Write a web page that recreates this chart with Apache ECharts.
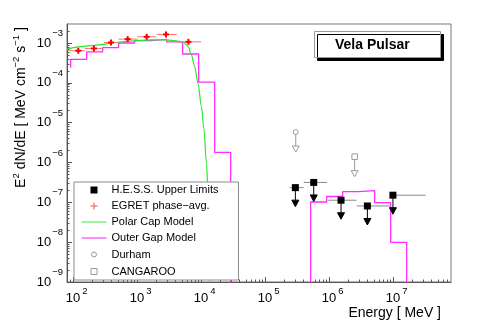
<!DOCTYPE html>
<html><head><meta charset="utf-8">
<script src="https://cdn.jsdelivr.net/npm/echarts@6/dist/echarts.min.js"></script>
<style>html,body{margin:0;padding:0;background:#fff}#c{width:482px;height:328px}</style>
</head><body><div id="c"></div>
<script>
// ---- axis ranges & tick labels (powers of ten) ----
const xRange = [80, 8e7];          // MeV
const yRange = [1e-9, 3e-3];       // MeV cm^-2 s^-1
const xTickExps = [2, 3, 4, 5, 6, 7];
const yTickExps = [-9, -8, -7, -6, -5, -4, -3];

// ---- EGRET phase-averaged points ----
const egretE   = [120, 211, 390, 710, 1405, 2820, 6310];
const egretELo = [82, 152, 302, 508, 1000, 2020, 4140];
const egretEHi = [154, 286, 510, 1018, 1970, 4140, 9930];
const egretF   = [6.4e-4, 7.3e-4, 1.03e-3, 1.25e-3, 1.43e-3, 1.64e-3, 1.07e-3];
const egretFLo = [5.6e-4, 6.4e-4, 9.1e-4, 1.10e-3, 1.26e-3, 1.38e-3, 9.4e-4];
const egretFHi = [7.3e-4, 8.3e-4, 1.17e-3, 1.42e-3, 1.62e-3, 1.92e-3, 1.22e-3];

// ---- H.E.S.S. upper limits ----
const hessE   = [2.96e5, 5.73e5, 1.53e6, 3.95e6, 9.9e6];
const hessELo = [2.42e5, 4.0e5, 9.5e5, 2.69e6, 9.1e6];
const hessEHi = [4.0e5, 9.25e5, 2.66e6, 9.1e6, 3.22e7];
const hessUL  = [2.34e-7, 3.16e-7, 1.13e-7, 8.1e-8, 1.51e-7];

// ---- Durham & CANGAROO upper limits ----
const durhamE = [3.0e5];    const durhamUL = [5.8e-6];
const cangE   = [2.5e6];    const cangUL   = [1.4e-6];

// ---- Polar cap model curve ----
const pcE = [80, 142, 259, 473, 859, 1567, 2858, 4099, 5200, 6223, 7031, 7907, 8913, 10070, 11070, 12050, 12960, 13240, 13580, 14000];
const pcF = [7.0e-4, 8.2e-4, 9.0e-4, 1.03e-3, 1.135e-3, 1.2e-3, 1.2e-3, 1.135e-3, 1.06e-3, 8.2e-4, 5.06e-4, 2.57e-4, 9.8e-5, 2.54e-5, 6.6e-6, 9.6e-7, 1.39e-7, 3.03e-8, 1.0e-9, 1e-11];

// ---- Outer gap model histogram (bin low edges, values; 1e-12 = below plot) ----
const ogE = [91.2, 91.2, 162.2, 288.4, 512.9, 912.0, 1622, 2884, 5129, 9120, 16218, 28840, 5.129e5, 9.12e5, 1.622e6, 2.884e6, 5.129e6, 9.12e6, 1.622e7];
const ogF = [2.4e-4, 3.9e-4, 6.0e-4, 7.7e-4, 1.0e-3, 1.15e-3, 1.24e-3, 1.07e-3, 5.3e-4, 1.04e-4, 1.8e-6, 1e-12, 1.02e-7, 1.4e-7, 1.86e-7, 1.97e-7, 9.8e-8, 9.9e-9, 1e-12];

const lg = Math.log10;
const FONT = 'Liberation Sans, Arial, Helvetica, sans-serif';

function minorTicks(lo, hi) {
  const out = [];
  for (let d = Math.floor(lo); d <= Math.ceil(hi); d++)
    for (let k = 2; k <= 9; k++) { const v = d + lg(k); if (v > lo && v < hi) out.push(v); }
  return out;
}
const xMin = lg(xRange[0]), xMax = lg(xRange[1]);
const yMin = lg(yRange[0]), yMax = lg(yRange[1]);

function expStr(v) { const n = Math.round(v); return n < 0 ? '\u2212' + (-n) : '' + n; }

function ulRenderer(cfg) {
  return function (params, api) {
    const p = api.coord([api.value(0), api.value(1)]);
    const ch = [];
    if (cfg.bar) {
      const l = api.coord([api.value(2), api.value(1)]);
      const r = api.coord([api.value(3), api.value(1)]);
      ch.push({type: 'line', shape: {x1: l[0], y1: p[1], x2: r[0], y2: p[1]}, style: {stroke: cfg.barColor, lineWidth: 1}});
    }
    const tip = p[1] + cfg.len;
    ch.push({type: 'line', shape: {x1: p[0], y1: p[1], x2: p[0], y2: tip - cfg.headH}, style: {stroke: cfg.color, lineWidth: 1}});
    ch.push({type: 'polygon', shape: {points: [[p[0] - cfg.headW / 2, tip - cfg.headH], [p[0] + cfg.headW / 2, tip - cfg.headH], [p[0], tip]]},
             style: {fill: cfg.headFill, stroke: cfg.color, lineWidth: 1}});
    const s = cfg.size;
    if (cfg.marker === 'circle') {
      ch.push({type: 'circle', shape: {cx: p[0], cy: p[1], r: s / 2}, style: {fill: cfg.markFill, stroke: cfg.color, lineWidth: 1}});
    } else {
      ch.push({type: 'rect', shape: {x: p[0] - s / 2, y: p[1] - s / 2, width: s, height: s}, style: {fill: cfg.markFill, stroke: cfg.color, lineWidth: cfg.markFill === '#000' ? 0 : 1}});
    }
    return {type: 'group', children: ch};
  };
}

const chart = echarts.init(document.getElementById('c'), null, {renderer: 'canvas'});

const xLabelRich = {
  a: {fontSize: 13, fontFamily: FONT, color: '#000', padding: [0, 0, 0, 7]},
  b: {fontSize: 9.5, fontFamily: FONT, color: '#000', padding: [0, 0, 14, 2]}
};
const yLabelRich = {
  a: {fontSize: 13, fontFamily: FONT, color: '#000'},
  b: {fontSize: 9.5, fontFamily: FONT, color: '#000', padding: [0, 0, 19, 1]}
};
const LINE_ICON = 'path://M0,0M25,12M0,5.4H25V6.6H0Z';

const option = {
  animation: false,
  backgroundColor: '#fff',
  title: {
    text: 'Vela Pulsar', left: 314, top: 31,
    padding: [7, 31, 6, 21],
    backgroundColor: '#fff', borderColor: '#999', borderWidth: 1,
    shadowColor: '#000', shadowOffsetX: 3, shadowOffsetY: 3, shadowBlur: 0,
    textStyle: {fontSize: 14, fontWeight: 'bold', fontFamily: FONT, color: '#000', lineHeight: 14}
  },
  legend: {
    orient: 'vertical', left: 74, top: 182,
    padding: [2, 20, 2, 7], itemGap: 4, itemWidth: 25, itemHeight: 12,
    backgroundColor: '#fff', borderColor: '#8c8c8c', borderWidth: 1,
    selectedMode: false, z: 10,
    textStyle: {fontFamily: FONT, fontSize: 11, color: '#000'},
    data: [
      {name: 'H.E.S.S. Upper Limits', icon: 'path://M0,0M25,12M9,2.5H16V9.5H9Z', itemStyle: {color: '#000', borderWidth: 0}},
      {name: 'EGRET phase\u2212avg.', icon: 'path://M0,0M25,12M12,2.5H13V9.5H12Z M9,5.5H16V6.5H9Z', itemStyle: {color: '#ff4a4a', borderWidth: 0}},
      {name: 'Polar Cap Model', icon: LINE_ICON, itemStyle: {color: '#5cf05c', borderWidth: 0}},
      {name: 'Outer Gap Model', icon: LINE_ICON, itemStyle: {color: '#ff3cff', borderWidth: 0}},
      {name: 'Durham', icon: 'path://M0,0M25,12M15,6A2.5,2.5,0,1,1,10,6A2.5,2.5,0,1,1,15,6Z', itemStyle: {color: '#fff', borderColor: '#999', borderWidth: 1}},
      {name: 'CANGAROO', icon: 'path://M0,0M25,12M9.5,3H15.5V9H9.5Z', itemStyle: {color: '#fff', borderColor: '#999', borderWidth: 1}}
    ]
  },
  grid: {left: 67, right: 31, top: 24, bottom: 46, show: true, borderColor: '#777', borderWidth: 1, backgroundColor: 'transparent', containLabel: false, outerBoundsMode: 'none'},
  xAxis: [
    {
      type: 'value', min: xMin, max: xMax, position: 'bottom',
      axisLine: {show: true, lineStyle: {color: '#555', width: 1}},
      axisTick: {show: true, inside: true, length: 5, customValues: xTickExps, lineStyle: {color: '#555'}},
      axisLabel: {show: true, customValues: xTickExps, margin: 4, hideOverlap: false, showMinLabel: true, showMaxLabel: true,
                  formatter: v => '{a|10}{b|' + expStr(v) + '}', rich: xLabelRich},
      splitLine: {show: false},
      name: 'Energy [ MeV ]', nameLocation: 'end', nameGap: -10, nameMoveOverlap: false,
      nameTextStyle: {fontFamily: FONT, fontSize: 14, color: '#000', align: 'right', verticalAlign: 'top', padding: [24, 0, 0, 0]}
    },
    {
      type: 'value', min: xMin, max: xMax, position: 'bottom',
      axisLine: {show: false},
      axisTick: {show: true, inside: true, length: 2.5, customValues: minorTicks(xMin, xMax), lineStyle: {color: '#555'}},
      axisLabel: {show: false}, splitLine: {show: false}
    }
  ],
  yAxis: [
    {
      type: 'value', min: yMin, max: yMax, position: 'left',
      axisLine: {show: true, lineStyle: {color: '#555', width: 1}},
      axisTick: {show: true, inside: true, length: 5, customValues: yTickExps, lineStyle: {color: '#555'}},
      axisLabel: {show: true, customValues: yTickExps, margin: 4, hideOverlap: false, showMinLabel: true, showMaxLabel: true,
                  formatter: v => '{a|10}{b|' + expStr(v) + '}', rich: yLabelRich},
      splitLine: {show: false},
      name: 'E{sup|2} dN/dE [ MeV cm{sup|\u22122} s{sup|\u22121} ]',
      nameLocation: 'middle', nameRotate: 90, nameGap: 35, nameMoveOverlap: false,
      nameTextStyle: {fontFamily: FONT, fontSize: 14, color: '#000', padding: [0, 0, 0, 91],
                      rich: {sup: {fontFamily: FONT, fontSize: 9.5, color: '#000', padding: [0, 0, 11, 0]}}}
    },
    {
      type: 'value', min: yMin, max: yMax, position: 'left',
      axisLine: {show: false},
      axisTick: {show: true, inside: true, length: 2.5, customValues: minorTicks(yMin, yMax), lineStyle: {color: '#555'}},
      axisLabel: {show: false}, splitLine: {show: false}
    }
  ],
  series: [
    {
      name: 'Outer Gap Model', type: 'line', step: 'end', symbol: 'none', showSymbol: false, clip: true,
      data: ogE.map((e, i) => [lg(e), lg(ogF[i])]),
      lineStyle: {color: '#ff2bff', width: 1.3}, itemStyle: {color: '#ff2bff'}, z: 2
    },
    {
      name: 'Polar Cap Model', type: 'line', symbol: 'none', showSymbol: false, smooth: 0.3, smoothMonotone: 'x', clip: true,
      data: pcE.map((e, i) => [lg(e), lg(pcF[i])]),
      lineStyle: {color: '#2ee62e', width: 1.2}, itemStyle: {color: '#2ee62e'}, z: 3
    },
    {
      name: 'EGRET phase\u2212avg.', type: 'custom', clip: true, z: 4,
      encode: {x: [0, 2, 3], y: [1, 4, 5]},
      data: egretE.map((e, i) => [lg(e), lg(egretF[i]), lg(egretELo[i]), lg(egretEHi[i]), lg(egretFLo[i]), lg(egretFHi[i])]),
      itemStyle: {color: '#ff4a4a'},
      renderItem: function (params, api) {
        const p = api.coord([api.value(0), api.value(1)]);
        const l = api.coord([api.value(2), api.value(1)]);
        const r = api.coord([api.value(3), api.value(1)]);
        const lo = api.coord([api.value(0), api.value(4)]);
        const hi = api.coord([api.value(0), api.value(5)]);
        return {type: 'group', children: [
          {type: 'line', shape: {x1: l[0], y1: p[1], x2: r[0], y2: p[1]}, style: {stroke: '#ff7070', lineWidth: 1}},
          {type: 'line', shape: {x1: p[0], y1: lo[1], x2: p[0], y2: hi[1]}, style: {stroke: '#ff7070', lineWidth: 1}},
          {type: 'line', shape: {x1: p[0] - 3, y1: p[1], x2: p[0] + 3, y2: p[1]}, style: {stroke: '#f00', lineWidth: 2}},
          {type: 'line', shape: {x1: p[0], y1: p[1] - 3, x2: p[0], y2: p[1] + 3}, style: {stroke: '#f00', lineWidth: 2}}
        ]};
      }
    },
    {
      name: 'H.E.S.S. Upper Limits', type: 'custom', clip: true, z: 5,
      encode: {x: [0, 2, 3], y: 1},
      data: hessE.map((e, i) => [lg(e), lg(hessUL[i]), lg(hessELo[i]), lg(hessEHi[i])]),
      itemStyle: {color: '#000'},
      renderItem: ulRenderer({bar: true, barColor: '#8a8a8a', color: '#000', len: 19, headH: 6.5, headW: 7, headFill: '#000', marker: 'rect', size: 7, markFill: '#000'})
    },
    {
      name: 'Durham', type: 'custom', clip: true, z: 5,
      encode: {x: 0, y: 1},
      data: durhamE.map((e, i) => [lg(e), lg(durhamUL[i])]),
      itemStyle: {color: '#999'},
      renderItem: ulRenderer({bar: false, color: '#9a9a9a', len: 20, headH: 6, headW: 7, headFill: '#fff', marker: 'circle', size: 5, markFill: '#fff'})
    },
    {
      name: 'CANGAROO', type: 'custom', clip: true, z: 5,
      encode: {x: 0, y: 1},
      data: cangE.map((e, i) => [lg(e), lg(cangUL[i])]),
      itemStyle: {color: '#999'},
      renderItem: ulRenderer({bar: false, color: '#9a9a9a', len: 20, headH: 6, headW: 7, headFill: '#fff', marker: 'rect', size: 5.5, markFill: '#fff'})
    }
  ]
};
chart.setOption(option);
</script></body></html>
